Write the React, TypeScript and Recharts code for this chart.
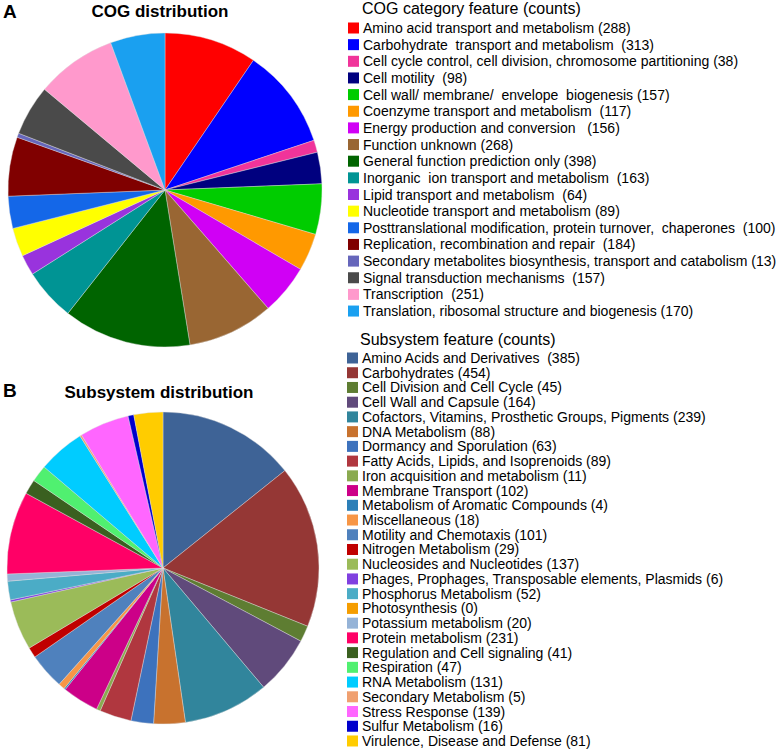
import React from "react";
import { PieChart, Pie, Cell } from "recharts";

const cogNames = [
  "Amino acid transport and metabolism",
  "Carbohydrate  transport and metabolism ",
  "Cell cycle control, cell division, chromosome partitioning",
  "Cell motility ",
  "Cell wall/ membrane/  envelope  biogenesis",
  "Coenzyme transport and metabolism ",
  "Energy production and conversion  ",
  "Function unknown",
  "General function prediction only",
  "Inorganic  ion transport and metabolism ",
  "Lipid transport and metabolism ",
  "Nucleotide transport and metabolism",
  "Posttranslational modification, protein turnover,  chaperones ",
  "Replication, recombination and repair ",
  "Secondary metabolites biosynthesis, transport and catabolism",
  "Signal transduction mechanisms ",
  "Transcription ",
  "Translation, ribosomal structure and biogenesis",
];
const cogCounts = [288, 313, 38, 98, 157, 117, 156, 268, 398, 163, 64, 89, 100, 184, 13, 157, 251, 170];
const cogColors = [
  "#FF0000", "#0000FF", "#F0349A", "#00007F", "#00CC00", "#FF9900", "#D000F5", "#996633", "#006400",
  "#009494", "#9933DD", "#FFFF00", "#1467E8", "#800000", "#6666BB", "#4A4A4A", "#FF99CC", "#1AA0F0",
];

const subNames = [
  "Amino Acids and Derivatives ",
  "Carbohydrates",
  "Cell Division and Cell Cycle",
  "Cell Wall and Capsule",
  "Cofactors, Vitamins, Prosthetic Groups, Pigments",
  "DNA Metabolism",
  "Dormancy and Sporulation",
  "Fatty Acids, Lipids, and Isoprenoids",
  "Iron acquisition and metabolism",
  "Membrane Transport",
  "Metabolism of Aromatic Compounds",
  "Miscellaneous",
  "Motility and Chemotaxis",
  "Nitrogen Metabolism",
  "Nucleosides and Nucleotides",
  "Phages, Prophages, Transposable elements, Plasmids",
  "Phosphorus Metabolism",
  "Photosynthesis",
  "Potassium metabolism",
  "Protein metabolism",
  "Regulation and Cell signaling",
  "Respiration",
  "RNA Metabolism",
  "Secondary Metabolism",
  "Stress Response",
  "Sulfur Metabolism",
  "Virulence, Disease and Defense",
];
const subCounts = [385, 454, 45, 164, 239, 88, 63, 89, 11, 102, 4, 18, 101, 29, 137, 6, 52, 0, 20, 231, 41, 47, 131, 5, 139, 16, 81];
const subColors = [
  "#3E6396", "#953735", "#5E7D32", "#604A7B", "#31859C", "#C8722E", "#3D72BD", "#B0373F", "#8AAA50",
  "#CC0088", "#2C7FB8", "#F79646", "#4F81BD", "#C00000", "#9BBB59", "#8040E0", "#4BACC6", "#F59D00",
  "#95B3D7", "#FF0066", "#3A6020", "#50F070", "#00CCFF", "#F0A070", "#FF66FF", "#0000CC", "#FFCC00",
];

const cogData = cogNames.map((n, i) => ({ name: n, value: cogCounts[i] }));
const subData = subNames.map((n, i) => ({ name: n, value: subCounts[i] }));

const FONT = "'Liberation Sans', Arial, sans-serif";

export default function App() {
  return (
    <div style={{ position: "absolute", left: 0, top: 0, width: 778, height: 751, background: "#fff" }}>
      <div style={{ position: "absolute", left: 0, top: 0 }}>
        <PieChart width={778} height={751}>
          <Pie
            data={cogData}
            dataKey="value"
            nameKey="name"
            cx={160}
            cy={185}
            outerRadius={157}
            startAngle={90}
            endAngle={-270}
            stroke="#dddddd"
            strokeWidth={0.4}
            isAnimationActive={false}
          >
            {cogData.map((d, i) => (
              <Cell key={d.name} fill={cogColors[i]} />
            ))}
          </Pie>
          <Pie
            data={subData}
            dataKey="value"
            nameKey="name"
            cx={158}
            cy={563}
            outerRadius={156}
            startAngle={90}
            endAngle={-270}
            stroke="#dddddd"
            strokeWidth={0.4}
            isAnimationActive={false}
          >
            {subData.map((d, i) => (
              <Cell key={d.name} fill={subColors[i]} />
            ))}
          </Pie>
        </PieChart>
      </div>
      <svg
        width={778}
        height={751}
        style={{ position: "absolute", left: 0, top: 0, pointerEvents: "none", fontFamily: FONT }}
      >
        <text x={3} y={18} fontSize={19} fontWeight="bold" fill="#000">A</text>
        <text x={160} y={17} fontSize={17} fontWeight="bold" textAnchor="middle" fill="#000">COG distribution</text>
        <text x={3} y={397} fontSize={19} fontWeight="bold" fill="#000">B</text>
        <text x={159} y={398} fontSize={17} fontWeight="bold" textAnchor="middle" fill="#000">Subsystem distribution</text>

        <text x={362} y={14} fontSize={16} fill="#000">COG category feature (counts)</text>
        {cogNames.map((n, i) => {
          const cy = 28 + i * 16.65;
          return (
            <g key={n}>
              <rect x={348} y={cy - 5.5} width={11} height={11} fill={cogColors[i]} />
              <text x={363} y={cy + 5} fontSize={14} fill="#000" style={{ whiteSpace: "pre" }}>
                {`${n} (${cogCounts[i]})`}
              </text>
            </g>
          );
        })}

        <text x={360} y={345} fontSize={16} fill="#000">Subsystem feature (counts)</text>
        {subNames.map((n, i) => {
          const cy = 358 + i * 14.73;
          return (
            <g key={n}>
              <rect x={347} y={cy - 5.5} width={11} height={11} fill={subColors[i]} />
              <text x={362} y={cy + 5} fontSize={14} fill="#000" style={{ whiteSpace: "pre" }}>
                {`${n} (${subCounts[i]})`}
              </text>
            </g>
          );
        })}
      </svg>
    </div>
  );
}
